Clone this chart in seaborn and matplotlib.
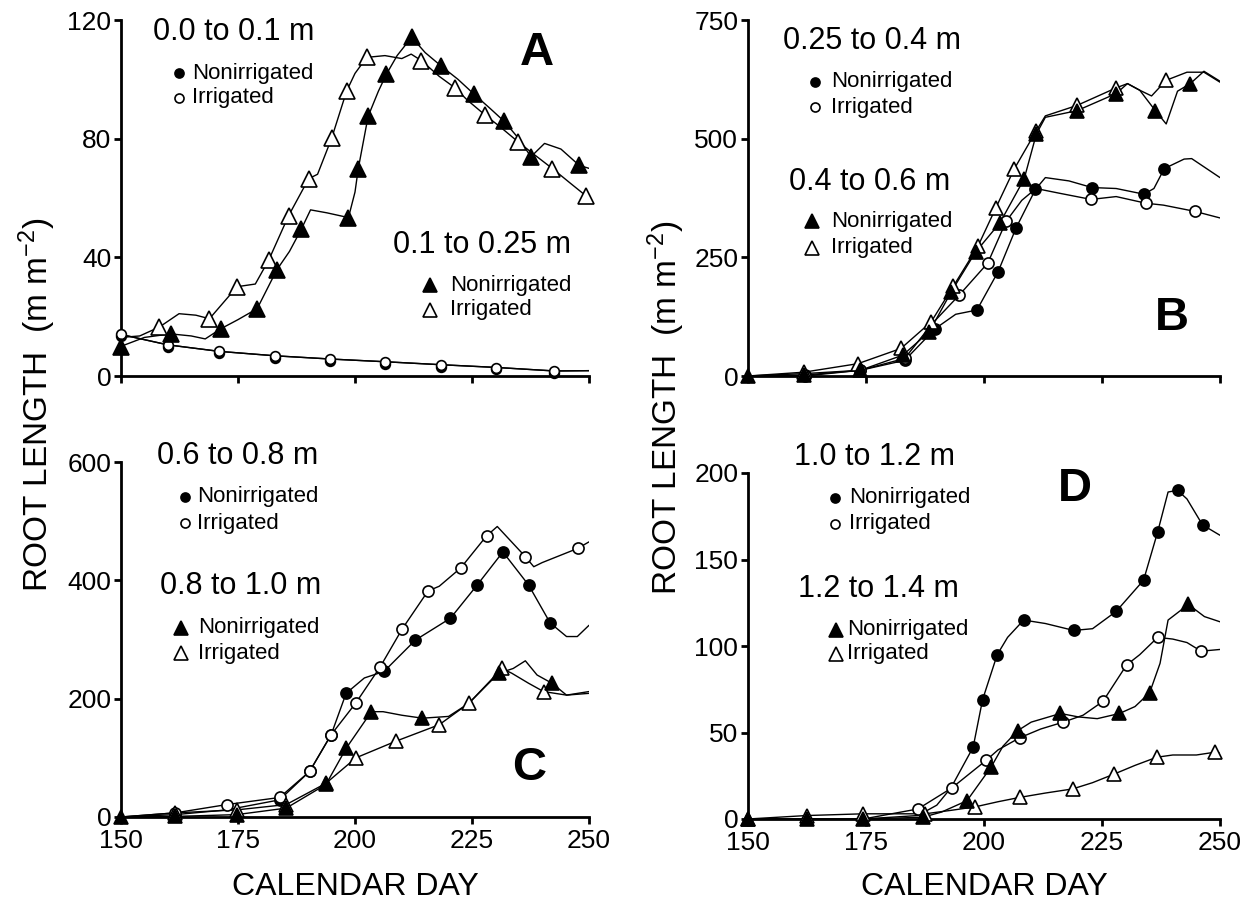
import numpy as np
import matplotlib
matplotlib.use("Agg")
import matplotlib.pyplot as plt
from matplotlib.lines import Line2D
import seaborn as sns

sns.set_theme(style="ticks")
plt.rcParams['font.family'] = ['Liberation Sans', 'DejaVu Sans']
plt.rcParams['mathtext.fontset'] = 'custom'
plt.rcParams['mathtext.rm'] = 'Liberation Sans'
plt.rcParams['mathtext.it'] = 'Liberation Sans'
plt.rcParams['text.color'] = 'black'
plt.rcParams['axes.labelcolor'] = 'black'
plt.rcParams['xtick.color'] = 'black'
plt.rcParams['ytick.color'] = 'black'

# ---------------- DATA ----------------
days_ticks = [150, 175, 200, 225, 250]

# Panel A: 0.0-0.1 m (circles), 0.1-0.25 m (triangles)
a_circ_line_day = [150, 160, 171, 183, 195, 206.5, 218.4, 230, 242.6, 250]
a_circ_line_val = [14, 10.5, 8.3, 6.8, 5.7, 4.8, 3.8, 2.9, 1.7, 1.8]
a_circ_n_day = [150, 160, 171, 183, 194.7, 206.5, 218.4, 230.1, 242.6]
a_circ_n_val = [13.4, 9.7, 7.7, 6.2, 5.1, 4.2, 3.2, 2.3, 1.1]
a_circ_i_day = [150, 160, 171, 183, 194.7, 206.5, 218.4, 230.1, 242.6]
a_circ_i_val = [14.2, 10.4, 8.3, 6.8, 5.7, 4.8, 3.8, 2.8, 1.7]

a_tri_n_line_day = [150, 155, 160.6, 165, 168, 171.3, 175, 179.1, 183.3, 186, 188.5, 190.5, 194, 198.6,
                    200, 200.7, 202.8, 205, 206.7, 209, 212.1, 215, 218.4, 222, 225.5, 229, 231.9, 235,
                    237.6, 240.5, 244, 247.9, 250]
a_tri_n_line_val = [10, 13, 14.2, 13.5, 12.5, 15.9, 19, 22.7, 35.8, 42, 49.4, 56, 55, 53.4,
                    62, 69.9, 87.5, 96, 101.7, 108, 114.2, 109, 104.5, 100, 94.9, 90, 85.8, 80,
                    73.9, 78.4, 76.5, 71, 70]
a_tri_n_day = [150, 160.6, 171.3, 179.1, 183.3, 188.5, 198.6, 200.7, 202.8, 206.7, 212.1, 218.4, 225.5,
               231.9, 237.6, 247.9]
a_tri_n_val = [9.7, 14.2, 15.9, 22.7, 35.8, 49.4, 53.4, 69.9, 87.5, 101.7, 114.2, 104.5, 94.9,
               85.8, 73.9, 71.0]

a_tri_i_line_day = [150, 154, 158.2, 162.4, 166, 168.9, 174.8, 178.7, 181.6, 185.8, 190.1, 192, 195, 198.2,
                    200, 202.5, 206.4, 210, 212, 214.2, 218, 221.3, 224, 227.7, 231, 234.8, 238, 242.2,
                    246, 249.3, 250]
a_tri_i_line_val = [13, 13.5, 16.5, 21, 20.5, 19.3, 30.1, 31, 39.2, 54, 66.5, 68, 80.1, 96,
                    102, 107.4, 108, 107, 108.5, 106.3, 101, 97.2, 93, 88.1, 84, 79, 75, 69.9,
                    65, 60.8, 60]
a_tri_i_day = [158.2, 168.9, 174.8, 181.6, 185.8, 190.1, 195, 198.2, 202.5, 214.2, 221.3, 227.7, 234.8,
               242.2, 249.3]
a_tri_i_val = [16.5, 19.3, 30.1, 39.2, 54, 66.5, 80.1, 96, 107.4, 106.3, 97.2, 88.1, 79, 69.9, 60.8]

# Panel B: 0.25-0.4 m (circles), 0.4-0.6 m (triangles)
b_circ_n_line_day = [150, 162, 173.8, 183.2, 189.7, 194, 198.5, 203, 206.8, 210.9, 213, 218, 222.9, 228,
                     233.9, 236, 238.2, 242.4, 244, 250]
b_circ_n_line_val = [0, 2, 12, 33, 100, 130, 139, 220, 312, 393, 418, 411, 397, 395,
                     383, 395, 437, 457, 458, 418]
b_circ_n_day = [162, 173.8, 183.2, 189.7, 198.5, 203, 206.8, 210.9, 222.9, 233.9, 238.2]
b_circ_n_val = [2, 12, 33, 100, 139, 220, 312, 393, 397, 383, 437]

b_circ_i_line_day = [150, 162, 173.8, 183.2, 189, 194.8, 200.8, 204.7, 208, 211, 216, 222.7, 228, 234.3,
                     238, 244.6, 250]
b_circ_i_line_val = [0, 0, 12, 37, 110, 171, 238, 326, 370, 395, 385, 372, 378, 364,
                     360, 347, 333]
b_circ_i_day = [162, 173.8, 183.2, 194.8, 200.8, 204.7, 222.7, 234.3, 244.6]
b_circ_i_val = [0, 12, 37, 171, 238, 326, 372, 364, 347]

b_tri_n_line_day = [150, 161.8, 173.8, 182.8, 188.4, 193.1, 198.2, 203.4, 208.5, 211.1, 213, 219.7, 228,
                    230.4, 233, 236.3, 238.6, 241, 243.7, 246.6, 250]
b_tri_n_line_val = [0, 5, 12, 44, 93, 178, 261, 323, 415, 510, 545, 559, 595,
                    616, 602, 559, 531, 600, 616, 642, 621]
b_tri_n_day = [150, 161.8, 173.8, 182.8, 188.4, 193.1, 198.2, 203.4, 208.5, 211.1, 219.7, 228, 236.3, 243.7]
b_tri_n_val = [0, 3, 12, 44, 93, 178, 261, 323, 415, 510, 559, 595, 559, 616]

b_tri_i_line_day = [150, 161.8, 173.3, 182.4, 188.8, 193.5, 198.7, 202.5, 206.4, 211.1, 213, 219.7, 228,
                    230.4, 233, 235.5, 238.6, 243, 246.6, 250]
b_tri_i_line_val = [0, 8, 26, 58, 114, 189, 273, 354, 436, 517, 548, 570, 607,
                    616, 602, 590, 623, 640, 640, 619]
b_tri_i_day = [161.8, 173.3, 182.4, 188.8, 193.5, 198.7, 202.5, 206.4, 211.1, 219.7, 228, 238.6]
b_tri_i_val = [8, 26, 58, 114, 189, 273, 354, 436, 517, 570, 607, 623]

# Panel C: 0.6-0.8 m (circles), 0.8-1.0 m (triangles)
c_circ_n_line_day = [150, 161.6, 172.6, 183.9, 190.3, 194.9, 198.1, 202, 206.2, 212.9, 220.4, 226.1, 231.6,
                     237.1, 241.7, 245.2, 247.5, 250]
c_circ_n_line_val = [0, 4, 12, 29, 77, 139, 209, 235, 246, 299, 336, 392, 448,
                     392, 328, 305, 305, 324]
c_circ_n_day = [161.6, 183.9, 190.3, 194.9, 198.1, 206.2, 212.9, 220.4, 226.1, 231.6, 237.1, 241.7]
c_circ_n_val = [4, 29, 77, 139, 209, 246, 299, 336, 392, 448, 392, 328]

c_circ_i_line_day = [150, 161.6, 172.6, 183.9, 190.3, 194.9, 200.2, 205.4, 210.1, 215.6, 218, 222.6, 228.1,
                     230.4, 236.4, 238.2, 240, 247.6, 250]
c_circ_i_line_val = [0, 7, 21, 33, 77, 139, 193, 254, 318, 382, 390, 421, 475,
                     491, 440, 423, 430, 454, 465]
c_circ_i_day = [161.6, 172.6, 183.9, 190.3, 194.9, 200.2, 205.4, 210.1, 215.6, 222.6, 228.1, 236.4, 247.6]
c_circ_i_val = [7, 21, 33, 77, 139, 193, 254, 318, 382, 421, 475, 440, 454]

c_tri_n_line_day = [150, 161.6, 174.7, 185.3, 193.8, 198.1, 203.5, 206, 210, 214.4, 220, 224.3, 230.7,
                    233.8, 236.4, 238.9, 242.1, 245.2, 250]
c_tri_n_line_val = [0, 1, 4, 15, 55, 116, 178, 178, 172, 167, 170, 192, 243,
                    251, 264, 240, 226, 206, 212]
c_tri_n_day = [150, 161.6, 174.7, 185.3, 193.8, 198.1, 203.5, 214.4, 230.7, 242.1]
c_tri_n_val = [0, 1, 4, 15, 55, 116, 178, 167, 243, 226]

c_tri_i_line_day = [150, 161.6, 174.7, 185.3, 193.8, 200.2, 208.7, 218, 224.3, 231.4, 233.5, 237.1, 240.3,
                    245.2, 250]
c_tri_i_line_val = [0, 7, 12, 21, 57, 100, 128, 156, 192, 251, 243, 226, 212, 206, 209]
c_tri_i_day = [161.6, 174.7, 185.3, 193.8, 200.2, 208.7, 218, 224.3, 231.4, 240.3]
c_tri_i_val = [7, 12, 21, 57, 100, 128, 156, 192, 251, 212]

# Panel D: 1.0-1.2 m (circles), 1.2-1.4 m (triangles)
d_circ_n_line_day = [150, 162.4, 174.4, 186, 190, 193, 197.7, 199.7, 202.8, 205, 208.4, 213, 219, 223,
                     228, 233.8, 236.8, 239, 241, 243, 246.3, 250]
d_circ_n_line_val = [0, 0, 0, 2, 8, 18, 41.5, 69, 95, 105, 115, 113, 109, 110,
                     120, 138, 166, 189, 190, 185, 170, 164]
d_circ_n_day = [197.7, 199.7, 202.8, 208.4, 219, 228, 233.8, 236.8, 241, 246.3]
d_circ_n_val = [41.5, 69, 95, 115, 109, 120, 138, 166, 190, 170]

d_circ_i_line_day = [150, 162.4, 174.4, 186, 193.2, 200.5, 203, 207.6, 212, 216.8, 221, 225.2, 230.2,
                     233, 236.8, 240, 243, 246, 250]
d_circ_i_line_val = [0, 0, 0, 5.8, 18, 34, 40, 47, 52, 56, 60, 68, 89,
                     95, 105, 104, 102, 97, 98]
d_circ_i_day = [186, 193.2, 200.5, 207.6, 216.8, 225.2, 230.2, 236.8, 246]
d_circ_i_val = [5.8, 18, 34, 47, 56, 68, 89, 105, 97]

d_tri_n_line_day = [150, 162.4, 174.4, 187, 191, 196.4, 201.5, 204, 207.1, 210, 216.2, 220, 224, 228.7,
                    232, 235.1, 237.3, 239, 243.3, 246.7, 250]
d_tri_n_line_val = [0, 0, 0, 1, 4, 10.6, 30, 42, 51, 56, 61, 59, 58, 61,
                    65, 73, 90, 115, 124, 117, 114]
d_tri_n_day = [150, 162.4, 174.4, 187, 196.4, 201.5, 207.1, 216.2, 228.7, 235.1, 243.3]
d_tri_n_val = [0, 0, 0, 1, 10.6, 30, 51, 61, 61, 73, 124]

d_tri_i_line_day = [150, 162.4, 174.4, 187.5, 193, 198.1, 203, 207.6, 213, 218.8, 223, 227.6, 232, 236.6,
                    240, 245, 248.9, 250]
d_tri_i_line_val = [0, 2, 3, 3, 5, 7, 10, 12.5, 15, 17.4, 21, 26, 31, 35.7,
                    37, 37, 38.6, 38]
d_tri_i_day = [150, 162.4, 174.4, 187.5, 198.1, 207.6, 218.8, 227.6, 236.6, 248.9]
d_tri_i_val = [0, 2, 3, 3, 7, 12.5, 17.4, 26, 35.7, 38.6]

# ---------------- FIGURE ----------------
W, H = 1257, 924
fig = plt.figure(figsize=(W / 100, H / 100), dpi=100)


def add_ax(x0, y0, x1, y1):
    return fig.add_axes([x0 / W, 1 - y1 / H, (x1 - x0) / W, (y1 - y0) / H])


axA = add_ax(121, 20, 589, 376)
axB = add_ax(748, 20, 1220, 376)
axC = add_ax(121, 462, 589, 817)
axD = add_ax(748, 473, 1220, 819)

yspec = {axA: ([0, 40, 80, 120], 120), axB: ([0, 250, 500, 750], 750),
         axC: ([0, 200, 400, 600], 600), axD: ([0, 50, 100, 150, 200], 200)}

for ax, (yt, ymax) in yspec.items():
    ax.set_xlim(150, 250)
    ax.set_ylim(0, ymax)
    ax.set_xticks(days_ticks)
    ax.set_yticks(yt)
    sns.despine(ax=ax)
    for s in ('left', 'bottom'):
        ax.spines[s].set_linewidth(2.0)
        ax.spines[s].set_color('black')
    ax.tick_params(direction='out', length=5, width=2.0, labelsize=19, colors='black')
    ax.tick_params(axis='x', pad=4)
    ax.tick_params(axis='y', pad=2)
    ax.set_facecolor('white')
    ax.set_xlabel('')
    ax.set_ylabel('')
axA.tick_params(labelbottom=False)
axB.tick_params(labelbottom=False)


def series(ax, ld, lv, md, mv, marker, filled, ms):
    sns.lineplot(x=ld, y=lv, ax=ax, color='black', lw=1.0, estimator=None, sort=False)
    ax.plot(md, mv, ls='none', marker=marker, ms=ms, mew=1.2, mec='black',
            mfc='black' if filled else 'white', clip_on=False, zorder=5)


# Panel A
series(axA, a_circ_line_day, a_circ_line_val, a_circ_n_day, a_circ_n_val, 'o', True, 7)
series(axA, a_circ_line_day, a_circ_line_val, a_circ_i_day, a_circ_i_val, 'o', False, 7)
series(axA, a_tri_i_line_day, a_tri_i_line_val, a_tri_i_day, a_tri_i_val, '^', False, 11)
series(axA, a_tri_n_line_day, a_tri_n_line_val, a_tri_n_day, a_tri_n_val, '^', True, 11)
# Panel B
series(axB, b_circ_n_line_day, b_circ_n_line_val, b_circ_n_day, b_circ_n_val, 'o', True, 8)
series(axB, b_circ_i_line_day, b_circ_i_line_val, b_circ_i_day, b_circ_i_val, 'o', False, 8)
series(axB, b_tri_i_line_day, b_tri_i_line_val, b_tri_i_day, b_tri_i_val, '^', False, 10)
series(axB, b_tri_n_line_day, b_tri_n_line_val, b_tri_n_day, b_tri_n_val, '^', True, 10)
# Panel C
series(axC, c_circ_n_line_day, c_circ_n_line_val, c_circ_n_day, c_circ_n_val, 'o', True, 8)
series(axC, c_circ_i_line_day, c_circ_i_line_val, c_circ_i_day, c_circ_i_val, 'o', False, 8)
series(axC, c_tri_i_line_day, c_tri_i_line_val, c_tri_i_day, c_tri_i_val, '^', False, 10)
series(axC, c_tri_n_line_day, c_tri_n_line_val, c_tri_n_day, c_tri_n_val, '^', True, 10)
# Panel D
series(axD, d_circ_n_line_day, d_circ_n_line_val, d_circ_n_day, d_circ_n_val, 'o', True, 8)
series(axD, d_circ_i_line_day, d_circ_i_line_val, d_circ_i_day, d_circ_i_val, 'o', False, 8)
series(axD, d_tri_i_line_day, d_tri_i_line_val, d_tri_i_day, d_tri_i_val, '^', False, 10)
series(axD, d_tri_n_line_day, d_tri_n_line_val, d_tri_n_day, d_tri_n_val, '^', True, 10)


# ---------------- TEXT / KEYS ----------------
def ftext(x, y, s, **kw):
    fig.text(x / W, 1 - y / H, s, color='black', **kw)


def fmark(x, y, marker, filled, ms):
    fig.add_artist(Line2D([x / W], [1 - y / H], transform=fig.transFigure, ls='none', marker=marker,
                          ms=ms, mew=1.2, mec='black', mfc='black' if filled else 'white'))


def key(title, tx, ty, mx, y1, y2, textx, marker, ms):
    ftext(tx, ty, title, fontsize=22, ha='left', va='center')
    fmark(mx, y1, marker, True, ms)
    fmark(mx, y2, marker, False, ms)
    ftext(textx, y1, 'Nonirrigated', fontsize=16, ha='left', va='center')
    ftext(textx, y2, 'Irrigated', fontsize=16, ha='left', va='center')


key('0.0 to 0.1 m', 153, 32, 179, 73, 98, 192, 'o', 6.5)
key('0.1 to 0.25 m', 393, 245, 430, 285, 310, 450, '^', 10)
key('0.25 to 0.4 m', 783, 41, 815, 82, 107, 831, 'o', 6.5)
key('0.4 to 0.6 m', 789, 182, 812, 221, 248, 831, '^', 10)
key('0.6 to 0.8 m', 157, 456, 185, 497, 523, 197, 'o', 6.5)
key('0.8 to 1.0 m', 160, 586, 181, 628, 653, 198, '^', 10)
key('1.0 to 1.2 m', 794, 457, 835, 498, 524, 849, 'o', 6.5)
key('1.2 to 1.4 m', 798, 589, 836, 630, 654, 847, '^', 10)

for lab, x, y in [('A', 537, 53), ('B', 1172, 318), ('C', 529, 768), ('D', 1075, 489)]:
    ftext(x, y, lab, fontsize=34, fontweight='bold', ha='center', va='center')

ylab = r'ROOT LENGTH  (m m$^{\mathregular{-2}}$)'
ftext(37, 405, ylab, fontsize=24, rotation=90, ha='center', va='center')
ftext(666, 408, ylab, fontsize=24, rotation=90, ha='center', va='center')
ftext(355, 887, 'CALENDAR DAY', fontsize=23, ha='center', va='center')
ftext(984, 887, 'CALENDAR DAY', fontsize=23, ha='center', va='center')

fig.savefig('out.png', dpi=100, facecolor='white')
